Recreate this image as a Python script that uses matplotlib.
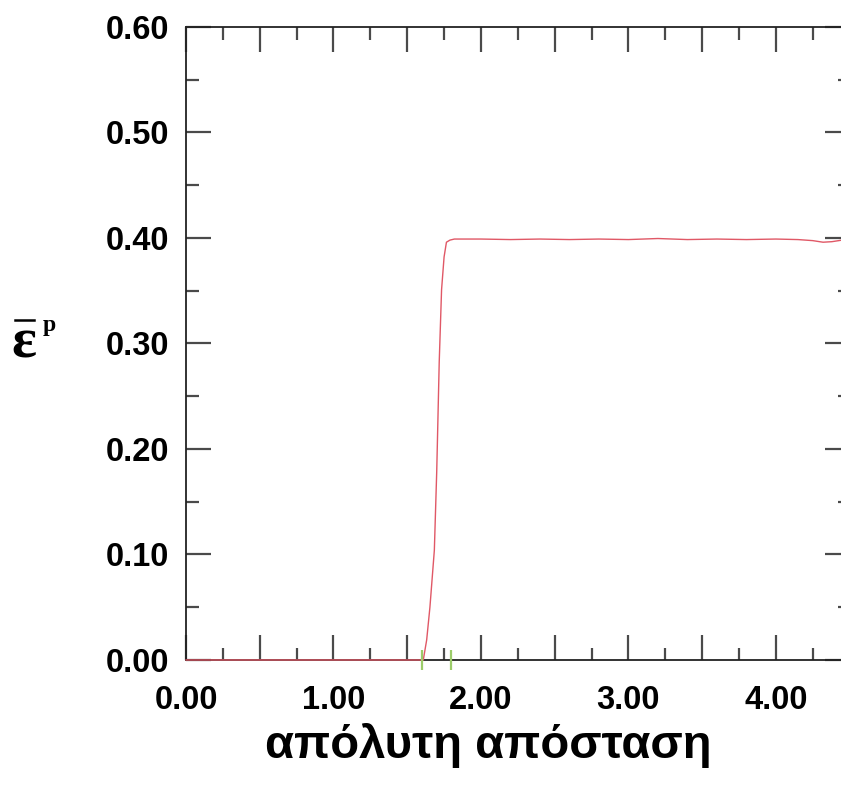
import matplotlib
matplotlib.use("Agg")
import matplotlib.pyplot as plt
from matplotlib.lines import Line2D
from matplotlib.ticker import MultipleLocator, FuncFormatter

plt.rcParams['font.family'] = ['Liberation Sans', 'DejaVu Sans']

# equivalent plastic strain along the path
distance = [0.00, 0.50, 1.00, 1.50, 1.609, 1.632, 1.654, 1.684, 1.700, 1.704,
            1.717, 1.733, 1.750, 1.766, 1.79, 1.82, 2.00, 2.20, 2.40, 2.60,
            2.80, 3.00, 3.20, 3.40, 3.60, 3.80, 4.00, 4.15, 4.25, 4.32,
            4.38, 4.45]
strain = [0.000, 0.000, 0.000, 0.000, 0.000, 0.019, 0.050, 0.104, 0.178, 0.202,
          0.282, 0.351, 0.382, 0.396, 0.398, 0.399, 0.399, 0.3985, 0.399, 0.3985,
          0.399, 0.3985, 0.3995, 0.3985, 0.399, 0.3985, 0.399, 0.3985, 0.3975, 0.396,
          0.3965, 0.398]

# marked positions on the path
marks_x = [1.60, 1.80]
marks_y = [0.0, 0.0]

x_label_vals = [0, 1, 2, 3, 4]
xlim = (0.0, 4.5)
ylim = (0.0, 0.6)

W, H = 841, 787
fig = plt.figure(figsize=(W / 100, H / 100), dpi=100)
ax = fig.add_axes([0.2212, 0.1614, 0.789, 0.8043])

ax.plot(distance, strain, color='#e05866', lw=1.0, zorder=3, clip_on=False)
ax.plot(marks_x, marks_y, linestyle='none', marker='|', markersize=14,
        markeredgewidth=1.6, color='#9ccc6a', zorder=4, clip_on=False)

ax.set_xlim(*xlim)
ax.set_ylim(*ylim)

ax.xaxis.set_major_locator(MultipleLocator(0.5))
ax.xaxis.set_minor_locator(MultipleLocator(0.25))
ax.yaxis.set_major_locator(MultipleLocator(0.1))
ax.yaxis.set_minor_locator(MultipleLocator(0.05))


def xfmt(v, pos):
    r = round(v)
    if abs(v - r) < 1e-6 and r in x_label_vals:
        return f"{v:.2f}"
    return ""


ax.xaxis.set_major_formatter(FuncFormatter(xfmt))
ax.yaxis.set_major_formatter(FuncFormatter(lambda v, p: f"{v:.2f}"))

ax.tick_params(which='both', direction='in', top=True, right=True,
               color='#4a4a4a')
ax.tick_params(which='major', length=18, width=1.6, labelsize=23.5, pad=12)
ax.tick_params(which='minor', length=9, width=1.6)
ax.tick_params(axis='x', which='major', pad=18)
for lab in ax.get_xticklabels() + ax.get_yticklabels():
    lab.set_fontweight('bold')

for sp in ax.spines.values():
    sp.set_linewidth(1.3)
    sp.set_color('#222222')

fig.text(488 / W, 1 - 746 / H, 'απόλυτη απόσταση', ha='center', va='center',
         fontsize=34, fontweight='bold')

# y-axis label: epsilon with an overbar and superscript p
fig.text(24 / W, 1 - 344 / H, 'ε', ha='center', va='center',
         fontsize=42, family='Liberation Serif', fontweight='bold')
fig.add_artist(Line2D([15 / W, 34 / W], [1 - 320 / H, 1 - 320 / H],
                      transform=fig.transFigure, color='black', lw=1.8))
fig.text(49 / W, 1 - 325 / H, 'p', ha='center', va='center',
         fontsize=17, family='Liberation Serif', fontweight='bold')

fig.savefig('out.png', dpi=100)
